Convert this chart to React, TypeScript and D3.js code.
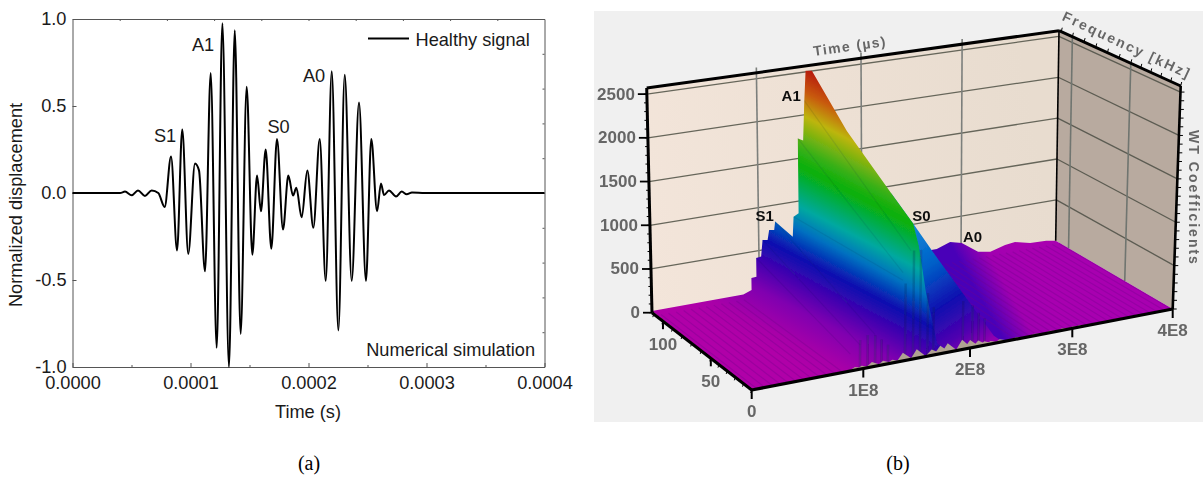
import React, { useEffect, useRef } from 'react';
import * as d3 from 'd3';

// (a) signal, extrema
const signalTimes = [0, 40.3, 44.5, 50.2, 55.5, 61.4, 67.1, 72.7, 78.1, 83.5, 88.6, 93, 98.1, 103.8, 107.2, 112.3, 117.1, 122.2, 127, 132.6, 137.5, 142.5, 147.6, 152.4, 156.4, 159.7, 163.7, 168.5, 173.3, 178.4, 182.9, 186.9, 189.7, 194.2, 199, 204.1, 209.5, 214.6, 219.7, 225.3, 230.7, 236.6, 242.8, 248.7, 253.2, 258.1, 261.4, 264, 268.2, 274.2, 279, 283.2, 287.7, 298.7, 400];
const signalValues = [0, 0, 0.008, -0.013, 0.015, -0.017, 0.015, 0, -0.08, 0.21, -0.33, 0.365, -0.35, 0.17, 0.13, -0.45, 0.69, -0.89, 0.975, -1, 0.935, -0.81, 0.61, -0.355, 0.1, -0.105, 0.25, -0.32, 0.31, -0.21, 0.1, -0.015, 0.03, -0.14, 0.13, -0.2, 0.31, -0.505, 0.7, -0.79, 0.68, -0.505, 0.52, -0.505, 0.31, -0.105, 0.055, -0.012, 0.015, -0.02, 0.008, -0.007, 0.003, 0, 0];
const modeLabels = ['S1', 'A1', 'S0', 'A0'];
const modeTimes = [78.4, 110.6, 174.6, 204.7];
const modeValues = [0.295, 0.816, 0.345, 0.638];

// (b) surface, time in 1E8 units
const timeTicks = [1, 2, 3, 4];
const freqTicks = [0, 50, 100];
const coefTicks = [0, 500, 1000, 1500, 2000, 2500];

const rearTimes = [0, 0.85, 0.927, 0.927, 0.974, 0.974, 1.021, 1.037, 1.086, 1.102, 1.151, 1.161, 1.33, 1.34, 1.389, 1.389, 1.44, 1.455, 1.47, 1.53];
const rearHeights = [20, 23, 57, 196, 202, 420, 425, 616, 606, 719, 709, 804, 593, 824, 856, 1732, 1699, 2163, 2511, 2500];

const crestTimes = [1.644, 1.845, 1.944, 2.043, 2.215, 2.32];
const crestFreqs = [90, 68, 57, 46, 24, 10];
const crestHeights = [1926, 1328, 1040, 753, 284, 0];

const footTimes = [1.887, 1.84, 1.79, 1.79];
const footFreqs = [45, 31, 12, 0];
const footHeights = [880, 455, 20, 0];

const humpTimes = [2.5, 2.755, 2.889, 3.007, 3.18, 3.31, 3.465, 3.57, 3.73, 3.9, 4];
const humpHeights = [155, 155, 210, 173, 34, 8, 57, 71, 28, 19, 0];

const toothTimes = [0.925, 0.985, 1.08, 1.185, 1.27, 1.37, 1.5, 1.64, 1.72, 1.79, 1.925, 2, 2.08, 2.14, 2.2, 2.29, 2.45, 2.63, 2.78, 2.9, 3, 3.07];
const toothHeights = [35, 35, 55, 45, 35, 90, 100, 65, 90, 100, 110, 90, 65, 45, 35, 35, 22, 22, 22, 22, 22, 22];

const spikeTimes = [1.39, 1.465, 1.53, 1.6, 1.655, 1.93, 2.02, 2.08, 2.14, 0.97, 1.04, 1.11, 1.17, 1.23];
const spikeHeights = [850, 1200, 1190, 700, 530, 540, 470, 375, 300, 320, 360, 340, 280, 210];

const ridgeStartTimes = [1.34, 1.389, 1.455, 1.161, 1.037, 0.974];
const ridgeStartHeights = [824, 1732, 2163, 804, 616, 420];
const ridgeEndTimes = [1.447, 1.447, 1.52, 1.19, 1.05, 0.96];
const ridgeEndHeights = [810, 895, 1125, 265, 180, 100];

const peakLabels = ['A1', 'S1', 'S0', 'A0'];
const peakTimes = [1.33, 1.06, 2.6, 3.12];
const peakHeights = [2250, 900, 590, 234];

const faceStops: [number, string][] = [[0, '#b81e0a'], [0.077, '#c85a08'], [0.157, '#bdb50a'], [0.27, '#38b018'], [0.33, '#08b008'], [0.467, '#00a8a0'], [0.543, '#0070c0'], [0.633, '#0a10b0'], [0.73, '#4a00b0'], [0.813, '#8000b0'], [0.93, '#a800a8'], [1, '#b000a8']];
const s0Stops: [number, string][] = [[0, '#1088d8'], [0.3, '#0060c8'], [0.6, '#1010b0'], [0.85, '#5000b0'], [1, '#9000b0']];
const floorStops: [number, string][] = [[0, '#4a00b8'], [0.47, '#a000b0'], [1, '#a800b0']];

const FMAX = 112;
const ZTOP = 2570;

const frontX = d3.scaleLinear().domain([0, 1, 2, 3, 4]).range([751.7, 863.3, 970, 1072.3, 1172.7]);
const backX = d3.scaleLinear().domain([0, 1, 2, 3, 4]).range([652, 759.5, 862, 961, 1055.7]);
const frontY = d3.scaleLinear().domain([751.7, 1172.7]).range([390, 309]);
const backY = d3.scaleLinear().domain([652, 1055.7]).range([312.7, 240.7]);
const depth = d3.scaleLinear().domain([0, 50, 100, FMAX]).range([0, 0.41, 0.89, 1]);

// floor point plus height, height and lean differ a bit per corner
const project = (t: number, f: number, z: number): [number, number] => {
  const v = depth(f);
  const u = t / 4;
  const xF = frontX(t);
  const xB = backX(t);
  const fx = xF + (xB - xF) * v;
  const fy = frontY(xF) + (backY(xB) - frontY(xF)) * v;
  const hFront = 238 + (223 - 238) * u;
  const hBack = 224.7 + (210 - 224.7) * u;
  const lFront = -0.7 + 8.7 * u;
  const lBack = -5.3 + 8.6 * u;
  const h = hFront + (hBack - hFront) * v;
  const l = lFront + (lBack - lFront) * v;
  return [fx + (l * z) / ZTOP, fy - (h * z) / ZTOP];
};

const App = () => {
  const svgRef = useRef<SVGSVGElement>(null);

  useEffect(() => {
    const svg = d3.select(svgRef.current);
    svg.selectAll('*').remove();
    const defs = svg.append('defs');

    // ---------- chart (a)
    const sans = '"Liberation Sans", Arial, sans-serif';
    const left = 72.5, right = 544.5, top = 19, bottom = 367;
    const x = d3.scaleLinear().domain([0, 0.0004]).range([left, right]);
    const y = d3.scaleLinear().domain([-1, 1]).range([bottom, top]);
    const a = svg.append('g');
    const axisColor = '#555';

    const styleAxis = (g: any) => {
      g.attr('font-family', sans).attr('font-size', 18.2);
      g.selectAll('path,line').attr('stroke', axisColor).attr('stroke-width', 1);
      g.selectAll('text').attr('fill', '#1a1a1a');
    };

    a.append('g')
      .attr('transform', `translate(0,${bottom})`)
      .call(d3.axisBottom(x).tickValues([0, 0.0001, 0.0002, 0.0003, 0.0004]).tickFormat((d: any) => d.toFixed(4)).tickSizeInner(-4).tickSizeOuter(0).tickPadding(9))
      .call(styleAxis);
    a.append('g')
      .attr('transform', `translate(0,${bottom})`)
      .call(d3.axisBottom(x).tickValues([0.00005, 0.00015, 0.00025, 0.00035]).tickFormat(() => '').tickSizeInner(-2).tickSizeOuter(0))
      .call(styleAxis);
    a.append('g')
      .attr('transform', `translate(${left},0)`)
      .call(d3.axisLeft(y).tickValues([-1, -0.5, 0, 0.5, 1]).tickFormat((d: any) => d.toFixed(1)).tickSizeInner(-4).tickSizeOuter(0).tickPadding(6))
      .call(styleAxis);
    a.append('g')
      .attr('transform', `translate(0,${top})`)
      .call(d3.axisTop(x).tickValues(d3.range(1, 10).map((i) => i * 0.00004)).tickFormat(() => '').tickSizeInner(-2).tickSizeOuter(0))
      .call(styleAxis);
    a.append('g')
      .attr('transform', `translate(${right},0)`)
      .call(d3.axisRight(y).tickValues(d3.range(-4, 5).map((i) => i * 0.2)).tickFormat(() => '').tickSizeInner(-2).tickSizeOuter(0))
      .call(styleAxis);

    const line = d3.line<number>()
      .x((d) => x(d * 1e-6))
      .y((_, i) => y(signalValues[i]))
      .curve(d3.curveMonotoneX);
    a.append('path')
      .attr('d', line(signalTimes))
      .attr('fill', 'none')
      .attr('stroke', '#000')
      .attr('stroke-width', 2);

    const label = (g: any, text: string, px: number, py: number, anchor = 'start', size = 18.2) =>
      g.append('text').attr('x', px).attr('y', py).attr('text-anchor', anchor)
        .attr('font-family', sans).attr('font-size', size).attr('fill', '#1a1a1a').text(text);

    modeLabels.forEach((d, i) => {
      label(a, d, x(modeTimes[i] * 1e-6), y(modeValues[i]), 'middle');
    });
    a.append('line').attr('x1', 368).attr('x2', 409).attr('y1', 38.5).attr('y2', 38.5).attr('stroke', '#000').attr('stroke-width', 2);
    label(a, 'Healthy signal', 415.5, 45.5);
    label(a, 'Numerical simulation', 535, 356, 'end');
    label(a, 'Normalized displacement', 0, 0, 'middle')
      .attr('transform', 'translate(22,205) rotate(-90)');
    label(a, 'Time (s)', 308, 418, 'middle');

    const serif = '"Liberation Serif", "Times New Roman", serif';
    label(svg, '(a)', 309, 470, 'middle', 20).attr('font-family', serif).attr('fill', '#000');
    label(svg, '(b)', 898, 470, 'middle', 20).attr('font-family', serif).attr('fill', '#000');

    // ---------- chart (b)
    svg.append('rect').attr('x', 594).attr('y', 11).attr('width', 609).attr('height', 411).attr('fill', '#f0f0f0');
    defs.append('filter').attr('id', 'soft').attr('x', '-2%').attr('y', '-2%').attr('width', '104%').attr('height', '104%')
      .append('feGaussianBlur').attr('stdDeviation', 0.55);
    const b = svg.append('g').attr('filter', 'url(#soft)');
    const poly = d3.line();

    const gradient = (id: string, from: [number, number], to: [number, number], stops: [number, string][]) => {
      const g = defs.append('linearGradient').attr('id', id).attr('gradientUnits', 'userSpaceOnUse')
        .attr('x1', from[0]).attr('y1', from[1]).attr('x2', to[0]).attr('y2', to[1]);
      stops.forEach(([o, c]) => g.append('stop').attr('offset', o).attr('stop-color', c));
    };
    gradient('face', [806, 70], [683, 306], faceStops);
    gradient('s0', [915, 225], [991, 340], s0Stops);
    gradient('floorGrad', [950, 243], [1002, 214], floorStops);
    gradient('wall', project(0, FMAX, 0), project(4, FMAX, 0), [[0, '#f3e5da'], [1, '#e8dccf']]);

    // walls
    b.append('path')
      .attr('d', poly([project(0, FMAX, 0), project(0, FMAX, ZTOP), project(4, FMAX, ZTOP), project(4, FMAX, 0)]) + 'Z')
      .attr('fill', 'url(#wall)');
    b.append('path')
      .attr('d', poly([project(4, FMAX, 0), project(4, FMAX, ZTOP), project(4, 0, ZTOP), project(4, 0, 0)]) + 'Z')
      .attr('fill', '#b8aa9f');

    const seg = (p: [number, number], q: [number, number], color: string, w: number, o = 1) =>
      b.append('line').attr('x1', p[0]).attr('y1', p[1]).attr('x2', q[0]).attr('y2', q[1])
        .attr('stroke', color).attr('stroke-width', w).attr('stroke-opacity', o);

    // grid
    coefTicks.slice(1).forEach((z) => {
      seg(project(0, FMAX, z), project(4, FMAX, z), '#66665a', 1.3);
      seg(project(4, FMAX, z), project(4, 0, z), '#5c5c52', 1.3);
    });
    timeTicks.slice(0, 3).forEach((t) => {
      const p = project(t, FMAX, ZTOP);
      seg(project(t, FMAX, 0), [p[0], p[1] - 5], '#7c7f7c', 1.6);
    });
    freqTicks.slice(1).forEach((f) => {
      seg(project(4, f, 0), project(4, f, ZTOP), '#6f7570', 1.6);
    });

    // surface, far parts first
    const pts = (ts: number[], fs: number[] | number, zs: number[]) =>
      ts.map((t, i) => project(t, typeof fs === 'number' ? fs : fs[i], zs[i]));

    b.append('path')
      .attr('d', poly([
        ...pts(humpTimes, FMAX, humpHeights),
        project(4, 0, 0),
        project(1.7, 0, 0),
        project(1.7, 60, 0),
      ]) + 'Z')
      .attr('fill', 'url(#floorGrad)');

    d3.range(2.45, 4, 0.07).forEach((t) => {
      seg(project(t, 108, 0), project(t, 0, 0), '#70008c', 1.2, 0.32);
    });

    b.append('path')
      .attr('d', poly([
        ...pts(crestTimes.slice(1), crestFreqs.slice(1), crestHeights.slice(1)),
        project(2.32, 0, 0),
        project(1.7, 0, 0),
        project(1.7, 68, 0),
      ]) + 'Z')
      .attr('fill', 'url(#s0)');

    b.append('path')
      .attr('d', poly([
        ...pts(rearTimes, FMAX, rearHeights),
        ...pts(crestTimes.slice(0, 3), crestFreqs.slice(0, 3), crestHeights.slice(0, 3)),
        ...pts(footTimes, footFreqs, footHeights),
        project(0, 0, 0),
      ]) + 'Z')
      .attr('fill', 'url(#face)');

    d3.range(0.05, 0.85, 0.07).forEach((t) => {
      seg(project(t, 108, 0), project(t, 0, 0), '#70008c', 1.2, 0.32);
    });

    ridgeStartTimes.forEach((t, i) => {
      seg(project(t, FMAX, ridgeStartHeights[i]), project(ridgeEndTimes[i], 10, ridgeEndHeights[i]), '#002a50', 1.2, 0.1);
    });

    spikeTimes.forEach((t, i) => {
      seg(project(t, 0, 0), project(t, 0, spikeHeights[i]), '#10204a', 2.5, 0.22);
    });

    toothTimes.forEach((t, i) => {
      b.append('path')
        .attr('d', poly([project(t - 0.06, 0, 0), project(t, 0, toothHeights[i]), project(t + 0.09, 0, 0)]) + 'Z')
        .attr('fill', '#b0a292');
    });

    // frame
    const ink = '#000';
    seg(project(0, FMAX, ZTOP), project(4, FMAX, ZTOP), ink, 3);
    seg(project(4, FMAX, ZTOP), project(4, 0, ZTOP), ink, 3);
    seg(project(4, 0, ZTOP), project(4, 0, 0), ink, 2.6);
    seg(project(0, FMAX, ZTOP), project(0, FMAX, 0), ink, 3);
    seg(project(4, FMAX, ZTOP), project(4, FMAX, 0), ink, 1.6);
    seg(project(0, 0, 0), project(4, 0, 0), ink, 3.2);
    seg(project(0, FMAX, 0), project(0, 0, 0), ink, 3);

    // ticks and labels
    const tickText = (text: string, px: number, py: number, anchor = 'middle') =>
      b.append('text').attr('x', px).attr('y', py).attr('text-anchor', anchor).attr('dominant-baseline', 'central')
        .attr('font-family', sans).attr('font-weight', 'bold').attr('font-size', 17).attr('fill', '#666').text(text);

    [0, ...timeTicks].forEach((t) => {
      const p = project(t, 0, 0);
      seg(p, [p[0], p[1] + 9], ink, 2);
      tickText(t === 0 ? '0' : `${t}E8`, p[0], p[1] + 21.5);
    });
    freqTicks.slice(1).forEach((f) => {
      const p = project(0, f, 0);
      seg(p, [p[0], p[1] + 8], ink, 2);
      tickText(String(f), p[0], p[1] + 23);
    });
    d3.range(0, FMAX, 10).forEach((f) => {
      const p = project(0, f, 0);
      seg(p, [p[0] - 1, p[1] + 3], ink, 1);
      const q = project(4, f, ZTOP);
      seg(q, [q[0] + 1, q[1] - 4], ink, 1);
    });
    coefTicks.forEach((z) => {
      const p = project(0, FMAX, z);
      seg([p[0] - 9, p[1]], p, ink, 1.8);
      tickText(String(z), p[0] - 12, p[1], 'end');
    });
    d3.range(0, 2600, 100).forEach((z) => {
      const p = project(0, FMAX, z);
      seg([p[0] - 3, p[1]], p, ink, 1);
      const q = project(4, 0, z);
      seg(q, [q[0] + 4, q[1]], ink, 1);
    });

    const title = (text: string, px: number, py: number, angle: number, spacing: number) =>
      tickText(text, 0, 0).attr('letter-spacing', spacing).attr('font-size', 14)
        .attr('transform', `translate(${px},${py}) rotate(${angle})`);
    title('Time (µs)', 850, 46, -8, 1.4);
    title('Frequency [kHz]', 1127, 45, 25, 2.1);
    title('WT Coefficients', 1194, 198, 90, 2);

    peakLabels.forEach((d, i) => {
      const p = project(peakTimes[i], FMAX, peakHeights[i]);
      b.append('text').attr('x', p[0]).attr('y', p[1]).attr('text-anchor', 'middle').attr('dominant-baseline', 'central')
        .attr('font-family', sans).attr('font-weight', 'bold').attr('font-size', 15).attr('fill', '#111').text(d);
    });
  }, []);

  return <svg ref={svgRef} width={1203} height={490} style={{ position: 'absolute', left: 0, top: 0, background: '#fff' }}></svg>;
};

export default App;
